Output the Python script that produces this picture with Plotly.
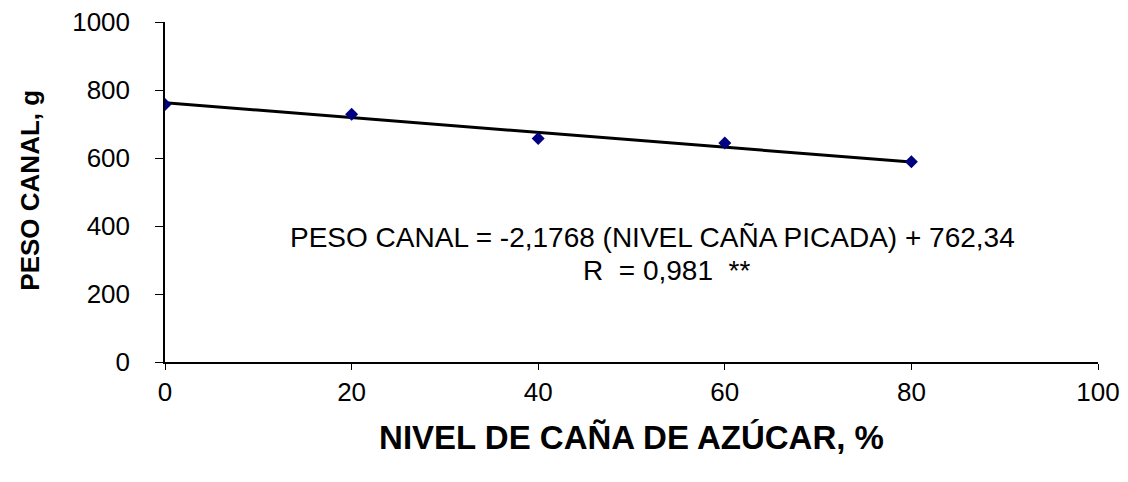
import plotly.graph_objects as go

nivel = [0, 20, 40, 60, 80]
peso = [757, 729, 657, 644, 589]
slope = -2.1768
intercept = 762.34
trend_x = [0, 80]
trend_y = [intercept + slope * x for x in trend_x]

x_ticks = [0, 20, 40, 60, 80, 100]
y_ticks = [0, 200, 400, 600, 800, 1000]

FONT = "Liberation Sans, Arial, sans-serif"

fig = go.Figure()
fig.add_trace(go.Scatter(x=trend_x, y=trend_y, mode="lines",
                         line=dict(color="black", width=3), showlegend=False))
fig.add_trace(go.Scatter(x=nivel, y=peso, mode="markers",
                         marker=dict(symbol="diamond", color="#000080", size=10),
                         showlegend=False))

fig.add_annotation(x=0.522, y=0.365, xref="paper", yref="paper",
                   xanchor="center", yanchor="middle",
                   text="PESO CANAL = -2,1768 (NIVEL CAÑA PICADA) + 762,34",
                   showarrow=False, font=dict(family=FONT, size=28, color="black"))
fig.add_annotation(x=0.537, y=0.27, xref="paper", yref="paper",
                   xanchor="center", yanchor="middle",
                   text="R  = 0,981  **",
                   showarrow=False, font=dict(family=FONT, size=28, color="black"))
# y-axis title
fig.add_annotation(x=-0.145, y=0.506, xref="paper", yref="paper",
                   xanchor="center", yanchor="middle", textangle=-90,
                   text="<b>PESO CANAL, g</b>",
                   showarrow=False, font=dict(family=FONT, size=26, color="black"))

fig.update_layout(
    width=1128, height=482,
    margin=dict(l=157, r=38, t=14, b=128),
    plot_bgcolor="white", paper_bgcolor="white",
    font=dict(family=FONT, size=26, color="black"),
    xaxis=dict(range=[0, 100], tickvals=x_ticks, showgrid=False, zeroline=False,
               showline=True, linecolor="black", linewidth=1.5, automargin=False,
               ticks="outside", ticklen=6, tickcolor="black",
               tickfont=dict(size=26), ticklabeloverflow="allow",
               title=dict(text="<b>NIVEL DE CAÑA DE AZÚCAR, %</b>",
                          font=dict(size=33), standoff=20)),
    yaxis=dict(range=[0, 1000], tickvals=y_ticks, showgrid=False, zeroline=False,
               showline=True, linecolor="black", linewidth=1.5, automargin=False,
               ticks="outside", ticklen=8, tickcolor="black",
               tickfont=dict(size=26), ticklabelstandoff=20,
               ticklabeloverflow="allow"),
)

fig.write_html("out.html")
